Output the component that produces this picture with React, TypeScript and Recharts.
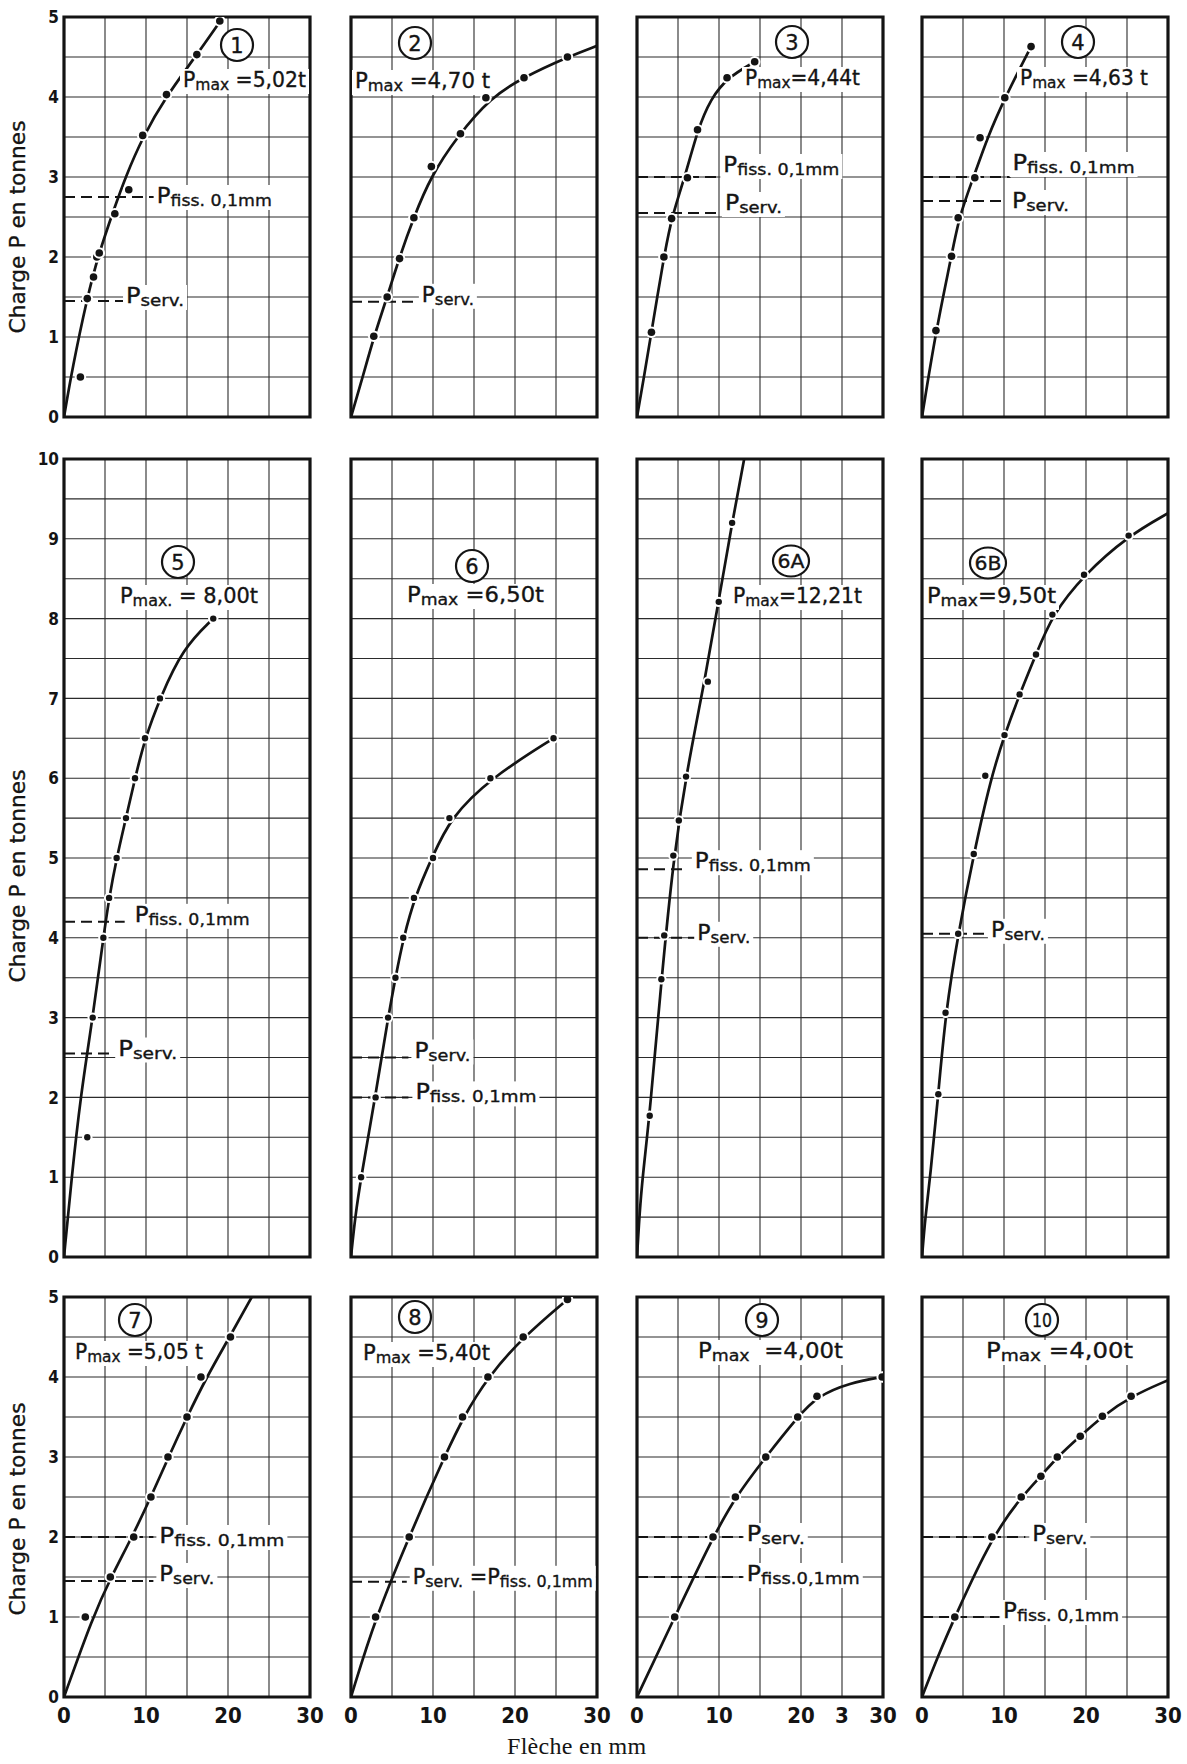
import React from 'react';
import {
  ComposedChart,
  Line,
  Scatter,
  XAxis,
  YAxis,
  CartesianGrid,
  ReferenceLine,
  ReferenceArea,
  ReferenceDot,
} from 'recharts';

type Pt = [number, number];
type Part = [string, boolean];

// ---------- axis ticks ----------
const deflectionTicks = [0, 5, 10, 15, 20, 25, 30];
const deflectionLabels = ['0', '', '10', '', '20', '', '30'];
const deflectionLabels9 = ['0', '', '10', '', '20', '3', '30'];
const loadTicks5 = [0, 0.5, 1, 1.5, 2, 2.5, 3, 3.5, 4, 4.5, 5];
const loadLabels5 = ['0', '', '1', '', '2', '', '3', '', '4', '', '5'];
const loadTicks10 = [0, 0.5, 1, 1.5, 2, 2.5, 3, 3.5, 4, 4.5, 5, 5.5, 6, 6.5, 7, 7.5, 8, 8.5, 9, 9.5, 10];
const loadLabels10 = ['0', '', '1', '', '2', '', '3', '', '4', '', '5', '', '6', '', '7', '', '8', '', '9', '', '10'];

// ---------- beam 1 ----------
const pMax1 = 5.02;
const serv1 = 1.45;
const fiss1 = 2.75;
const curve1: Pt[] = [[0, 0], [1.0, 0.6], [2.84, 1.5], [4.2, 2.03], [6.1, 2.6], [7.5, 3.0], [9.6, 3.5], [12.4, 4.0], [16.0, 4.5], [19.2, 4.97]];
const dots1: Pt[] = [[2.0, 0.5], [2.84, 1.48], [3.6, 1.75], [4.0, 2.0], [4.3, 2.05], [6.2, 2.54], [7.9, 2.84], [9.6, 3.52], [12.5, 4.03], [16.2, 4.53], [19.0, 4.95]];

// ---------- beam 2 ----------
const pMax2 = 4.7;
const serv2 = 1.44;
const curve2: Pt[] = [[0, 0], [1.43, 0.5], [2.78, 1.0], [4.41, 1.5], [5.92, 2.0], [7.67, 2.5], [9.7, 3.0], [12.9, 3.5], [17.1, 4.0], [21.1, 4.25], [26.4, 4.5], [30, 4.64]];
const dots2: Pt[] = [[2.78, 1.01], [4.41, 1.5], [5.92, 1.98], [7.67, 2.49], [9.8, 3.13], [13.35, 3.54], [16.45, 3.99], [21.1, 4.24], [26.4, 4.5]];

// ---------- beam 3 ----------
const pMax3 = 4.44;
const serv3 = 2.55;
const fiss3 = 3.0;
const curve3: Pt[] = [[0, 0], [0.85, 0.5], [1.76, 1.06], [3.28, 2.0], [4.22, 2.5], [6.0, 3.05], [7.38, 3.59], [9.0, 3.98], [11.0, 4.24], [14.35, pMax3]];
const dots3: Pt[] = [[1.76, 1.06], [3.28, 2.0], [4.22, 2.48], [6.15, 2.99], [7.38, 3.59], [10.98, 4.24], [14.35, pMax3]];

// ---------- beam 4 ----------
const pMax4 = 4.63;
const serv4 = 2.7;
const fiss4 = 3.0;
const curve4: Pt[] = [[0, 0], [1.7, 1.08], [3.6, 2.01], [4.5, 2.5], [6.3, 3.0], [8.0, 3.5], [10.1, 3.99], [13.3, pMax4]];
const dots4: Pt[] = [[1.7, 1.08], [3.6, 2.01], [4.41, 2.49], [6.44, 2.99], [7.08, 3.49], [10.1, 3.99], [13.3, pMax4]];

// ---------- beam 5 ----------
const pMax5 = 8.0;
const serv5 = 2.55;
const fiss5 = 4.2;
const curve5: Pt[] = [[0, 0], [0.94, 1.0], [2.0, 2.0], [3.5, 3.0], [4.8, 4.0], [5.5, 4.5], [6.42, 5.0], [7.56, 5.5], [8.66, 6.0], [9.88, 6.5], [11.7, 7.0], [14.5, 7.63], [18.2, pMax5]];
const dots5: Pt[] = [[2.84, 1.5], [3.5, 3.0], [4.8, 4.0], [5.5, 4.5], [6.42, 5.0], [7.56, 5.5], [8.66, 6.0], [9.88, 6.5], [11.7, 7.0], [18.2, pMax5]];

// ---------- beam 6 ----------
const pMax6 = 6.5;
const serv6 = 2.5;
const fiss6 = 2.0;
const curve6: Pt[] = [[0, 0], [0.5, 0.5], [1.23, 1.0], [2.95, 2.0], [4.52, 3.0], [5.42, 3.5], [6.4, 4.0], [7.8, 4.52], [9.95, 5.02], [12.1, 5.5], [17.0, 6.0], [24.7, pMax6]];
const dots6: Pt[] = [[1.23, 1.0], [3.0, 2.0], [4.52, 3.0], [5.42, 3.5], [6.37, 4.0], [7.68, 4.5], [10.0, 5.0], [12.0, 5.5], [17.0, 6.0], [24.7, pMax6]];

// ---------- beam 6A ----------
const pMax6A = 12.21;
const serv6A = 4.0;
const fiss6A = 4.86;
const curve6A: Pt[] = [[0, 0], [0.4, 0.7], [0.9, 1.2], [1.6, 1.85], [3.0, 3.5], [4.45, 5.0], [6.0, 6.05], [8.4, 7.3], [10.0, 8.25], [11.6, 9.2], [13.07, 10.0]];
const dots6A: Pt[] = [[1.55, 1.77], [2.97, 3.48], [3.32, 4.03], [4.43, 5.03], [5.1, 5.47], [5.98, 6.02], [8.64, 7.21], [9.97, 8.21], [11.6, 9.2]];

// ---------- beam 6B ----------
const pMax6B = 9.5;
const serv6B = 4.05;
const curve6B: Pt[] = [[0, 0], [0.4, 0.5], [1.0, 1.0], [1.99, 2.04], [2.87, 3.06], [4.41, 4.05], [6.31, 5.05], [8.4, 6.0], [10.06, 6.54], [11.9, 7.05], [13.9, 7.55], [15.9, 8.05], [19.76, 8.55], [25.2, 9.04], [30, 9.32]];
const dots6B: Pt[] = [[1.99, 2.04], [2.87, 3.06], [4.41, 4.05], [6.31, 5.05], [7.72, 6.03], [10.06, 6.54], [11.9, 7.05], [13.9, 7.55], [15.9, 8.05], [19.76, 8.55], [25.2, 9.04]];

// ---------- beam 7 ----------
const pMax7 = 5.05;
const serv7 = 1.45;
const fiss7 = 2.0;
const curve7: Pt[] = [[0, 0], [3.5, 1.0], [5.75, 1.5], [8.3, 2.0], [10.6, 2.5], [12.75, 3.0], [15.0, 3.5], [17.4, 4.0], [20.2, 4.5], [22.9, 5.0]];
const dots7: Pt[] = [[2.6, 1.0], [5.65, 1.5], [8.5, 2.0], [10.6, 2.5], [12.68, 3.0], [15.0, 3.5], [16.7, 4.0], [20.3, 4.5]];

// ---------- beam 8 ----------
const pMax8 = 5.4;
const serv8 = 1.44;
const curve8: Pt[] = [[0, 0], [3.0, 1.0], [7.1, 2.0], [9.2, 2.5], [11.4, 3.0], [13.7, 3.5], [16.7, 4.0], [21.0, 4.5], [26.4, 4.97]];
const dots8: Pt[] = [[3.0, 1.0], [7.1, 2.0], [11.4, 3.0], [13.6, 3.5], [16.7, 4.0], [21.0, 4.5], [26.4, 4.97]];

// ---------- beam 9 ----------
const pMax9 = 4.0;
const serv9 = 2.0;
const fiss9 = 1.5;
const curve9: Pt[] = [[0, 0], [4.6, 1.0], [9.27, 2.0], [12.0, 2.5], [15.7, 3.0], [19.6, 3.5], [21.95, 3.76], [26.0, 3.93], [29.9, pMax9]];
const dots9: Pt[] = [[4.6, 1.0], [9.27, 2.0], [12.0, 2.5], [15.7, 3.0], [19.6, 3.5], [21.95, 3.76], [29.9, pMax9]];

// ---------- beam 10 ----------
const pMax10 = 4.0;
const serv10 = 2.0;
const fiss10 = 1.0;
const curve10: Pt[] = [[0, 0], [1.9, 0.5], [4.0, 1.0], [8.52, 2.0], [12.1, 2.5], [14.5, 2.76], [16.5, 3.0], [19.3, 3.26], [22.0, 3.51], [25.5, 3.76], [30, 3.96]];
const dots10: Pt[] = [[4.0, 1.0], [8.52, 2.0], [12.1, 2.5], [14.5, 2.76], [16.5, 3.0], [19.3, 3.26], [22.0, 3.51], [25.5, 3.76]];

// ---------- styling ----------
const INK = '#141414';
const LETTER = "'DejaVu Sans', 'Noto Sans', sans-serif";
const DIGITS = "'Liberation Sans Narrow', 'DejaVu Sans Condensed', 'Liberation Sans', sans-serif";
const SERIF = "'Liberation Serif', 'DejaVu Serif', serif";

const COLS = [64, 351, 637, 922];
const ROWS = [
  { top: 17, h: 400, ymax: 5 },
  { top: 459, h: 798, ymax: 10 },
  { top: 1297, h: 400, ymax: 5 },
];
const PLOT_W = 246;
const ML = 60;
const MR = 24;
const MT = 10;
const MB = 40;

const fr = (v: number) => v.toFixed(2).replace('.', ',');
const servParts: Part[] = [['P', false], ['serv.', true]];
const fissParts: Part[] = [['P', false], ['fiss. 0,1mm', true]];
const maxParts = (v: number, pre: string, post: string, sub = 'max'): Part[] => [
  ['P', false],
  [sub, true],
  [`${pre}${fr(v)}${post}`, false],
];

interface RefSpec {
  value: number;
  xEnd: number;
  parts: Part[];
  dx: number;
  dy: number;
  w: number;
}

interface PanelSpec {
  key: string;
  col: number;
  row: number;
  curve: Pt[];
  dots: Pt[];
  refs: RefSpec[];
  circle: { t: string; dx: number; dy: number };
  pmax: { parts: Part[]; dx: number; dy: number; w: number };
  xLabels?: string[];
  titleDy?: number;
}

const panels: PanelSpec[] = [
  {
    key: '1', col: 0, row: 0, curve: curve1, dots: dots1,
    refs: [
      { value: fiss1, xEnd: 10.95, parts: fissParts, dx: 3, dy: 6, w: 115 },
      { value: serv1, xEnd: 7.2, parts: servParts, dx: 3, dy: 2, w: 58 },
    ],
    circle: { t: '1', dx: 173, dy: 28 },
    pmax: { parts: maxParts(pMax1, ' =', 't'), dx: 119, dy: 70, w: 123 },
    titleDy: 10,
  },
  {
    key: '2', col: 1, row: 0, curve: curve2, dots: dots2,
    refs: [{ value: serv2, xEnd: 8.4, parts: servParts, dx: 2, dy: 0, w: 52 }],
    circle: { t: '2', dx: 64, dy: 26 },
    pmax: { parts: maxParts(pMax2, ' =', ' t'), dx: 4, dy: 71, w: 135 },
  },
  {
    key: '3', col: 2, row: 0, curve: curve3, dots: dots3,
    refs: [
      { value: fiss3, xEnd: 9.8, parts: fissParts, dx: 6, dy: -5, w: 116 },
      { value: serv3, xEnd: 10.6, parts: servParts, dx: 1, dy: -3, w: 57 },
    ],
    circle: { t: '3', dx: 155, dy: 25 },
    pmax: { parts: maxParts(pMax3, '=', 't'), dx: 108, dy: 68, w: 115 },
  },
  {
    key: '4', col: 3, row: 0, curve: curve4, dots: dots4,
    refs: [
      { value: fiss4, xEnd: 10.8, parts: fissParts, dx: 2, dy: -7, w: 122 },
      { value: serv4, xEnd: 10.0, parts: servParts, dx: 8, dy: 7, w: 57 },
    ],
    circle: { t: '4', dx: 156, dy: 25 },
    pmax: { parts: maxParts(pMax4, ' =', ' t'), dx: 98, dy: 68, w: 128 },
  },
  {
    key: '5', col: 0, row: 1, curve: curve5, dots: dots5,
    refs: [
      { value: fiss5, xEnd: 7.4, parts: fissParts, dx: 10, dy: 0, w: 115 },
      { value: serv5, xEnd: 6.0, parts: servParts, dx: 5, dy: 2, w: 59 },
    ],
    circle: { t: '5', dx: 114, dy: 103 },
    pmax: { parts: maxParts(pMax5, ' = ', 't', 'max.'), dx: 56, dy: 144, w: 138 },
    titleDy: 18,
  },
  {
    key: '6', col: 1, row: 1, curve: curve6, dots: dots6,
    refs: [
      { value: serv6, xEnd: 7.0, parts: servParts, dx: 6, dy: 0, w: 56 },
      { value: fiss6, xEnd: 7.0, parts: fissParts, dx: 7, dy: 2, w: 121 },
    ],
    circle: { t: '6', dx: 121, dy: 107 },
    pmax: { parts: maxParts(pMax6, ' =', 't'), dx: 56, dy: 143, w: 137 },
  },
  {
    key: '6A', col: 2, row: 1, curve: curve6A, dots: dots6A,
    refs: [
      { value: fiss6A, xEnd: 6.2, parts: fissParts, dx: 7, dy: -1, w: 116 },
      { value: serv6A, xEnd: 7.1, parts: servParts, dx: 2, dy: 2, w: 53 },
    ],
    circle: { t: '6A', dx: 154, dy: 102 },
    pmax: { parts: maxParts(pMax6A, '=', 't'), dx: 96, dy: 144, w: 129 },
  },
  {
    key: '6B', col: 3, row: 1, curve: curve6B, dots: dots6B,
    refs: [{ value: serv6B, xEnd: 8.16, parts: servParts, dx: 2, dy: 3, w: 54 }],
    circle: { t: '6B', dx: 66, dy: 104 },
    pmax: { parts: maxParts(pMax6B, '=', 't'), dx: 5, dy: 144, w: 129 },
  },
  {
    key: '7', col: 0, row: 2, curve: curve7, dots: dots7,
    refs: [
      { value: fiss7, xEnd: 10.9, parts: fissParts, dx: 6, dy: 6, w: 125 },
      { value: serv7, xEnd: 10.9, parts: servParts, dx: 6, dy: 0, w: 55 },
    ],
    circle: { t: '7', dx: 71, dy: 23 },
    pmax: { parts: maxParts(pMax7, ' =', ' t'), dx: 11, dy: 62, w: 128 },
    titleDy: 12,
  },
  {
    key: '8', col: 1, row: 2, curve: curve8, dots: dots8,
    refs: [{
      value: serv8, xEnd: 6.8, dx: 6, dy: 2, w: 180,
      parts: [['P', false], ['serv.', true], [' =P', false], ['fiss. 0,1mm', true]],
    }],
    circle: { t: '8', dx: 64, dy: 20 },
    pmax: { parts: maxParts(pMax8, ' =', 't'), dx: 12, dy: 63, w: 127 },
  },
  {
    key: '9', col: 2, row: 2, curve: curve9, dots: dots9,
    refs: [
      { value: serv9, xEnd: 12.9, parts: servParts, dx: 4, dy: 4, w: 58 },
      { value: fiss9, xEnd: 12.9, parts: [['P', false], ['fiss.0,1mm', true]], dx: 4, dy: 4, w: 113 },
    ],
    circle: { t: '9', dx: 125, dy: 23 },
    pmax: { parts: maxParts(pMax9, '  =', 't'), dx: 61, dy: 61, w: 145 },
    xLabels: deflectionLabels9,
  },
  {
    key: '10', col: 3, row: 2, curve: curve10, dots: dots10,
    refs: [
      { value: serv10, xEnd: 12.6, parts: servParts, dx: 7, dy: 4, w: 55 },
      { value: fiss10, xEnd: 9.4, parts: fissParts, dx: 4, dy: 1, w: 116 },
    ],
    circle: { t: '10', dx: 120, dy: 23 },
    pmax: { parts: maxParts(pMax10, ' =', 't'), dx: 64, dy: 61, w: 147 },
  },
];

// "P" with a lowered subscript, on a white knock-out box
function PartsText({ x, y, parts, w }: { x: number; y: number; parts: Part[]; w: number }) {
  const size = 21;
  const sub = 16;
  let level = 0;
  const spans = parts.map(([t, isSub], i) => {
    const target = isSub ? 3 : 0;
    const dy = target - level;
    level = target;
    return (
      <tspan key={i} fontSize={isSub ? sub : size} dy={dy !== 0 ? dy : undefined}>
        {t}
      </tspan>
    );
  });
  return (
    <g>
      <rect x={x - 3} y={y - 18} width={w + 6} height={25} fill="#fff" />
      <text
        x={x}
        y={y}
        fontFamily={LETTER}
        fontSize={size}
        fill={INK}
        stroke={INK}
        strokeWidth={0.35}
        textLength={w}
        lengthAdjust="spacingAndGlyphs"
        xmlSpace="preserve"
        style={{ whiteSpace: 'pre' }}
      >
        {spans}
      </text>
    </g>
  );
}

function BeamTag({ cx, cy, t }: { cx: number; cy: number; t: string }) {
  const wide = t.length > 1 && t !== '10';
  return (
    <g>
      {wide ? (
        <ellipse cx={cx} cy={cy} rx={18} ry={15.5} fill="#fff" stroke={INK} strokeWidth={2.2} />
      ) : (
        <circle cx={cx} cy={cy} r={16} fill="#fff" stroke={INK} strokeWidth={2.2} />
      )}
      <text
        x={cx}
        y={cy}
        dy="0.36em"
        textAnchor="middle"
        fontFamily={LETTER}
        fontSize={t.length > 1 ? 19 : 21}
        fill={INK}
        stroke={INK}
        strokeWidth={0.35}
        textLength={t.length > 1 ? (wide ? 27 : 20) : undefined}
        lengthAdjust="spacingAndGlyphs"
      >
        {t}
      </text>
    </g>
  );
}

const makeXTick = (labels: string[] | null) => (props: any) => {
  const { x, y, payload } = props;
  const t = labels ? labels[deflectionTicks.indexOf(payload.value)] : '';
  if (!t) return <g />;
  return (
    <text x={x} y={y} dy="0.72em" textAnchor="middle" fontFamily={DIGITS} fontWeight={700} fontSize={22} fill={INK}>
      {t}
    </text>
  );
};

const makeYTick = (labels: string[] | null, ticks: number[]) => (props: any) => {
  const { x, y, payload } = props;
  const t = labels ? labels[ticks.indexOf(payload.value)] : '';
  if (!t) return <g />;
  return (
    <text x={x} y={y} dy="0.36em" textAnchor="end" fontFamily={DIGITS} fontWeight={700} fontSize={17} fill={INK}>
      {t}
    </text>
  );
};

function Panel({ p }: { p: PanelSpec }) {
  const row = ROWS[p.row];
  const ymax = row.ymax;
  const yTicks = ymax === 10 ? loadTicks10 : loadTicks5;
  const yLabels = p.col === 0 ? (ymax === 10 ? loadLabels10 : loadLabels5) : null;
  const xLabels = p.row === 2 ? p.xLabels ?? deflectionLabels : null;
  const curveData = p.curve.map(([x, y]) => ({ x, y }));
  const dotData = p.dots.map(([x, y]) => ({ x, y }));
  const dotR = p.row === 1 ? 3.2 : 3.8;
  const width = PLOT_W + ML + MR;
  const height = row.h + MT + MB;

  return (
    <div style={{ position: 'absolute', left: COLS[p.col] - ML, top: row.top - MT, width, height }}>
      <ComposedChart width={width} height={height} margin={{ top: MT, right: MR, bottom: 0, left: 0 }}>
        <CartesianGrid stroke="#2b2b2b" strokeWidth={1.1} fill="none" />
        <XAxis
          type="number"
          dataKey="x"
          domain={[0, 30]}
          ticks={deflectionTicks}
          interval={0}
          height={MB}
          axisLine={false}
          tickLine={false}
          tickSize={0}
          tickMargin={10}
          allowDataOverflow
          tick={makeXTick(xLabels)}
        />
        <YAxis
          type="number"
          dataKey="y"
          domain={[0, ymax]}
          ticks={yTicks}
          interval={0}
          width={ML}
          axisLine={false}
          tickLine={false}
          tickSize={0}
          tickMargin={5}
          allowDataOverflow
          tick={makeYTick(yLabels, yTicks)}
        />
        {p.refs.map((r, i) => (
          <ReferenceLine
            key={`l${i}`}
            segment={[{ x: 0, y: r.value }, { x: r.xEnd, y: r.value }]}
            stroke={INK}
            strokeWidth={2}
            strokeDasharray="11 6"
            ifOverflow="visible"
          />
        ))}
        {p.refs.map((r, i) => (
          <ReferenceDot
            key={`t${i}`}
            x={r.xEnd}
            y={r.value}
            r={1}
            ifOverflow="visible"
            shape={(s: any) => <PartsText x={s.cx + r.dx} y={s.cy + r.dy} parts={r.parts} w={r.w} />}
          />
        ))}
        <ReferenceDot
          x={0}
          y={ymax}
          r={1}
          ifOverflow="visible"
          shape={(s: any) => (
            <g>
              <PartsText x={s.cx + p.pmax.dx} y={s.cy + p.pmax.dy} parts={p.pmax.parts} w={p.pmax.w} />
              <BeamTag cx={s.cx + p.circle.dx} cy={s.cy + p.circle.dy} t={p.circle.t} />
            </g>
          )}
        />
        {p.col === 0 && (
          <ReferenceDot
            x={0}
            y={ymax / 2}
            r={1}
            ifOverflow="visible"
            shape={(s: any) => (
              <text
                transform={`translate(${s.cx - 46}, ${s.cy + (p.titleDy ?? 0)}) rotate(-90)`}
                textAnchor="middle"
                dy="0.35em"
                fontFamily={LETTER}
                fontSize={21}
                textLength={213}
                lengthAdjust="spacingAndGlyphs"
                fill={INK}
                stroke={INK}
                strokeWidth={0.3}
              >
                Charge P en tonnes
              </text>
            )}
          />
        )}
        <Line
          data={curveData}
          dataKey="y"
          type="basis"
          stroke={INK}
          strokeWidth={2.7}
          dot={false}
          activeDot={false}
          isAnimationActive={false}
        />
        <Scatter
          data={dotData}
          dataKey="y"
          isAnimationActive={false}
          shape={(s: any) => (
            <g>
              <circle cx={s.cx} cy={s.cy} r={dotR + 2} fill="#fff" />
              <circle cx={s.cx} cy={s.cy} r={dotR} fill={INK} />
            </g>
          )}
        />
        <ReferenceArea
          x1={0}
          x2={30}
          y1={0}
          y2={ymax}
          fill="none"
          fillOpacity={0}
          stroke={INK}
          strokeWidth={3.2}
          ifOverflow="visible"
        />
      </ComposedChart>
    </div>
  );
}

export default function App() {
  return (
    <div style={{ position: 'absolute', left: 0, top: 0, width: 1187, height: 1764, background: '#fff' }}>
      {panels.map((p) => (
        <Panel key={p.key} p={p} />
      ))}
      <div
        style={{
          position: 'absolute',
          left: 507,
          top: 1734,
          fontFamily: SERIF,
          fontSize: 24,
          lineHeight: '24px',
          color: INK,
          whiteSpace: 'nowrap',
          letterSpacing: 0.3,
        }}
      >
        Flèche en mm
      </div>
    </div>
  );
}
